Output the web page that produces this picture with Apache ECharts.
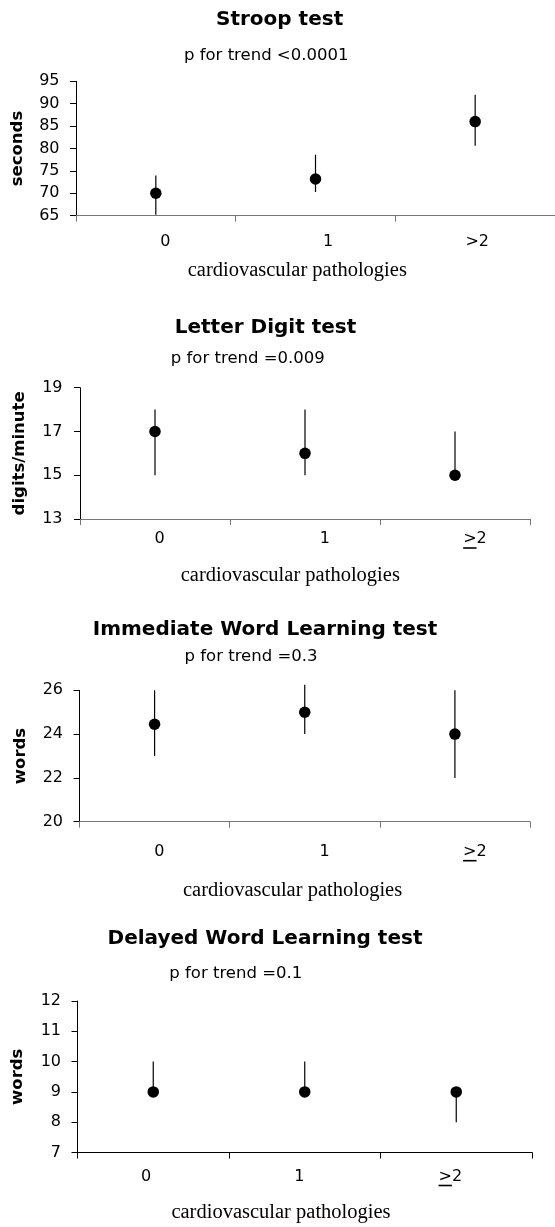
<!DOCTYPE html>
<html><head><meta charset="utf-8">
<script src="https://cdn.jsdelivr.net/npm/echarts@6/dist/echarts.min.js"></script>
<style>html,body{margin:0;padding:0;background:#fff}#c{width:555px;height:1227px}</style>
</head><body><div id="c"></div>
<script>
// ---- data ----
const catsStroop = ['0', '1', '>2'];
const catsOther = ['0', '1', '\u22652'];   // shown as underlined ">" + "2"

const stroopMean = [70.0, 73.2, 86.0];
const stroopLow  = [65.2, 70.3, 80.6];
const stroopHigh = [74.0, 78.6, 92.0];
const stroopTicks = [65, 70, 75, 80, 85, 90, 95];

const letterMean = [17, 16, 15];
const letterLow  = [15, 15, 15];
const letterHigh = [18, 18, 17];
const letterTicks = [13, 15, 17, 19];

const immMean = [24.45, 25.0, 24.0];
const immLow  = [23.0, 24.0, 22.0];
const immHigh = [26.0, 26.25, 26.0];
const immTicks = [20, 22, 24, 26];

const delMean = [9, 9, 9];
const delLow  = [9, 9, 8];
const delHigh = [10, 10, 9];
const delTicks = [7, 8, 9, 10, 11, 12];

const titles = ['Stroop test', 'Letter Digit test', 'Immediate Word Learning test', 'Delayed Word Learning test'];
const subtitles = ['p for trend <0.0001', 'p for trend =0.009', 'p for trend =0.3', 'p for trend =0.1'];
const yNames = ['seconds', 'digits/minute', 'words', 'words'];
const xName = 'cardiovascular pathologies';

// ---- layout (positions / styles) ----
const panels = [
  {cats: catsStroop, mean: stroopMean, low: stroopLow, high: stroopHigh, ticks: stroopTicks,
   grid: {left: 76, top: 81.3, width: 162.6 * 3, height: 134.4}, xAxisColor: '#777',
   labelPos: [0.56, 1.579, 2.513], labelMargin: 18, yLabelMargin: 16.5, yGap: 50,
   title: [279.6, 19.3], sub: [266.2, 56], xn: [297.3, 270.7]},
  {cats: catsOther, mean: letterMean, low: letterLow, high: letterHigh, ticks: letterTicks,
   grid: {left: 80, top: 387.7, width: 450, height: 131.3}, xAxisColor: '#777',
   labelPos: [0.531, 1.632, 2.633], labelMargin: 12, yLabelMargin: 17.5, yGap: 52,
   title: [265.5, 327.3], sub: [247.8, 359], xn: [290.3, 575.7]},
  {cats: catsOther, mean: immMean, low: immLow, high: immHigh, ticks: immTicks,
   grid: {left: 79.5, top: 690.3, width: 450.5, height: 131.4}, xAxisColor: '#777',
   labelPos: [0.531, 1.632, 2.633], labelMargin: 22, yLabelMargin: 16.5, yGap: 50,
   title: [265, 629.3], sub: [251, 656.7], xn: [292.6, 891]},
  {cats: catsOther, mean: delMean, low: delLow, high: delHigh, ticks: delTicks,
   grid: {left: 77.5, top: 1001, width: 454.5, height: 151.5}, xAxisColor: '#000',
   labelPos: [0.453, 1.464, 2.461], labelMargin: 16, yLabelMargin: 16.5, yGap: 51,
   title: [265, 938.3], sub: [235.8, 973.3], xn: [281, 1213]}
];

const SANS = 'DejaVu Sans, Liberation Sans, Arial, sans-serif';
const SERIF = 'Liberation Serif, Times New Roman, serif';
const T_SIZE = 20, S_SIZE = 16.5, L_SIZE = 16, XN_SIZE = 20.5, YN_SIZE = 16.5;
const GT_W = 13.4, TWO_W = 10.2;  // widths of ">" and "2" at L_SIZE

const option = {animation: false, backgroundColor: '#fff', title: [], grid: [], xAxis: [], yAxis: [], series: []};

function fmtCat(label) {
  if (label === '\u22652') return '{n|>2}\n{u| }{s| }';
  return '{n|' + label + '}';
}

panels.forEach((p, k) => {
  option.title.push({text: titles[k], left: p.title[0], top: p.title[1] - T_SIZE / 2, textAlign: 'center', padding: 0,
    textStyle: {fontFamily: SANS, fontSize: T_SIZE, fontWeight: 'bold', color: '#000', lineHeight: T_SIZE}});
  option.title.push({text: subtitles[k], left: p.sub[0], top: p.sub[1] - S_SIZE / 2, textAlign: 'center', padding: 0,
    textStyle: {fontFamily: SANS, fontSize: S_SIZE, fontWeight: 'normal', color: '#000', lineHeight: S_SIZE}});
  option.title.push({text: xName, left: p.xn[0], top: p.xn[1] - XN_SIZE / 2, textAlign: 'center', padding: 0,
    textStyle: {fontFamily: SERIF, fontSize: XN_SIZE, fontWeight: 'normal', color: '#000', lineHeight: XN_SIZE}});

  option.grid.push(Object.assign({containLabel: false}, p.grid));
  const cats = p.cats;
  option.xAxis.push({
    type: 'value', gridIndex: k, min: 0, max: 3,
    splitLine: {show: false},
    axisLine: {show: true, onZero: false, lineStyle: {color: p.xAxisColor, width: 1}},
    axisTick: {show: true, customValues: [0, 1, 2, 3], length: 6, lineStyle: {color: p.xAxisColor, width: 1}},
    axisLabel: {show: true, customValues: p.labelPos, margin: p.labelMargin, color: '#000',
      fontFamily: SANS, fontSize: L_SIZE, lineHeight: L_SIZE,
      formatter: v => fmtCat(cats[Math.floor(v)] || ''),
      rich: {
        n: {fontFamily: SANS, fontSize: L_SIZE, lineHeight: L_SIZE, color: '#000'},
        u: {width: GT_W, height: 1.6, lineHeight: 2, backgroundColor: '#000'},
        s: {width: TWO_W, height: 1.6, lineHeight: 2}
      }}
  });
  option.yAxis.push({
    type: 'value', gridIndex: k, min: p.ticks[0], max: p.ticks[p.ticks.length - 1],
    name: yNames[k], nameLocation: 'middle', nameRotate: 90, nameGap: p.yGap,
    nameTextStyle: {fontFamily: SANS, fontSize: YN_SIZE, fontWeight: 'bold', color: '#000'},
    splitLine: {show: false},
    axisLine: {show: true, lineStyle: {color: '#000', width: 1}},
    axisTick: {show: true, customValues: p.ticks, length: 6, lineStyle: {color: '#000', width: 1}},
    axisLabel: {show: true, customValues: p.ticks, margin: p.yLabelMargin, color: '#000', fontFamily: SANS, fontSize: L_SIZE}
  });
  const errData = cats.map((c, i) => [i + 0.5, p.low[i], p.high[i]]);
  option.series.push({
    type: 'custom', xAxisIndex: k, yAxisIndex: k, data: errData, z: 2, clip: false,
    renderItem: (params, api) => {
      const a = api.coord([api.value(0), api.value(1)]);
      const b = api.coord([api.value(0), api.value(2)]);
      return {type: 'line', shape: {x1: a[0], y1: a[1], x2: b[0], y2: b[1]},
        style: {stroke: '#000', lineWidth: 1.2}};
    }
  });
  option.series.push({
    type: 'scatter', xAxisIndex: k, yAxisIndex: k, z: 3, symbol: 'circle', symbolSize: 11.5,
    itemStyle: {color: '#000', opacity: 1},
    data: cats.map((c, i) => [i + 0.5, p.mean[i]])
  });
});

const chart = echarts.init(document.getElementById('c'), null, {renderer: 'canvas'});
chart.setOption(option);
</script>
</body></html>
